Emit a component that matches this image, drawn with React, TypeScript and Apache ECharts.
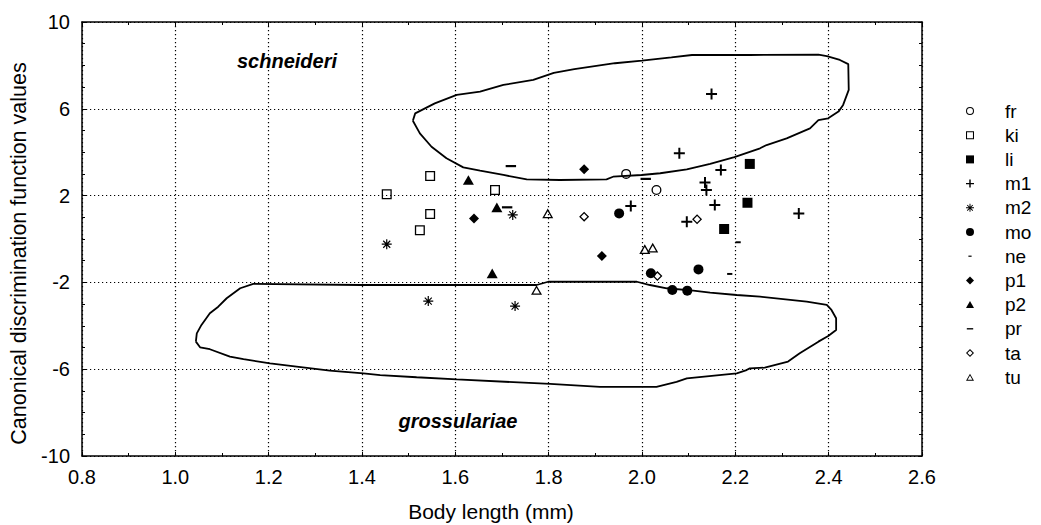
import React, { useEffect, useRef } from 'react';
import * as echarts from 'echarts';

// ---------- data ----------
const xTickMin = 0.8;
const xTickMax = 2.6;
const xTickStep = 0.2;
const yTickValues = [-10, -6, -2, 2, 6, 10];

const seriesNames = ['fr', 'ki', 'li', 'm1', 'm2', 'mo', 'ne', 'p1', 'p2', 'pr', 'ta', 'tu'];

const fr = [[1.966, 3.0], [2.031, 2.26]];
const ki = [[1.453, 2.06], [1.546, 2.9], [1.546, 1.15], [1.524, 0.4], [1.685, 2.26]];
const li = [[2.231, 3.46], [2.226, 1.67], [2.176, 0.46]];
const m1 = [[2.149, 6.68], [2.08, 3.95], [2.169, 3.18], [2.135, 2.6], [2.138, 2.26], [2.156, 1.57], [1.976, 1.52], [2.096, 0.8], [2.336, 1.18]];
const m2 = [[1.453, -0.24], [1.723, 1.11], [1.542, -2.86], [1.728, -3.09]];
const mo = [[1.951, 1.18], [2.019, -1.58], [2.121, -1.4], [2.065, -2.35], [2.097, -2.38]];
const ne = [[2.206, -0.15], [2.188, -1.61]];
const p1 = [[1.876, 3.21], [1.64, 0.95], [1.914, -0.78]];
const p2 = [[1.628, 2.72], [1.689, 1.46], [1.679, -1.58]];
const pr = [[1.719, 3.36], [1.711, 1.46], [2.008, 2.77]];
const ta = [[1.876, 1.03], [2.118, 0.91], [2.033, -1.71]];
const tu = [[1.798, 1.18], [2.006, -0.47], [2.023, -0.4], [1.774, -2.35]];

const schneideriContour = [
  [1.509, 5.45], [1.514, 5.79], [1.556, 6.25], [1.603, 6.64], [1.653, 6.79], [1.703, 7.1],
  [1.767, 7.33], [1.811, 7.66], [1.855, 7.83], [1.942, 8.1], [2.0, 8.22], [2.063, 8.37],
  [2.107, 8.48], [2.231, 8.48], [2.378, 8.5], [2.396, 8.43], [2.424, 8.25], [2.442, 8.06],
  [2.443, 6.87], [2.435, 6.41], [2.431, 6.18], [2.421, 5.87], [2.399, 5.56], [2.378, 5.48],
  [2.36, 5.1], [2.31, 4.64], [2.267, 4.33], [2.253, 4.18], [2.198, 3.77], [2.146, 3.46],
  [2.096, 3.21], [2.039, 3.03], [1.999, 2.95], [1.938, 2.87], [1.924, 2.75], [1.824, 2.72],
  [1.753, 2.75], [1.703, 2.95], [1.653, 3.15], [1.617, 3.3], [1.581, 3.72], [1.549, 4.25],
  [1.524, 4.87], [1.509, 5.45],
];

const grossulariaeContour = [
  [1.044, -4.73], [1.046, -4.35], [1.056, -3.96], [1.074, -3.42], [1.092, -3.12], [1.11, -2.73],
  [1.139, -2.27], [1.167, -2.07], [1.396, -2.12], [1.774, -2.12], [1.799, -1.97], [1.989, -1.97],
  [2.017, -2.12], [2.053, -2.27], [2.11, -2.38], [2.146, -2.47], [2.203, -2.58], [2.253, -2.66],
  [2.353, -2.89], [2.396, -3.04], [2.406, -3.27], [2.416, -3.65], [2.416, -4.19], [2.399, -4.47],
  [2.378, -4.73], [2.338, -5.27], [2.313, -5.65], [2.263, -5.93], [2.231, -5.96], [2.224, -6.04],
  [2.203, -6.19], [2.096, -6.42], [2.074, -6.58], [2.031, -6.81], [1.91, -6.81], [1.803, -6.68],
  [1.603, -6.47], [1.517, -6.37], [1.439, -6.27], [1.403, -6.19], [1.331, -6.07], [1.26, -5.88],
  [1.203, -5.73], [1.146, -5.54], [1.117, -5.42], [1.074, -5.08], [1.053, -4.99], [1.044, -4.73],
];

const seriesData: Record<string, number[][]> = { fr, ki, li, m1, m2, mo, ne, p1, p2, pr, ta, tu };

// ---------- styles ----------
const FONT = '"Liberation Sans", Arial, Helvetica, sans-serif';
const BOX = 'M0,0M10,10';
const CIRCLE_OUT = 'M10,5A5,5,0,1,1,0,5A5,5,0,1,1,10,5Z';
const CIRCLE_IN = 'M8.7,5A3.7,3.7,0,1,0,1.3,5A3.7,3.7,0,1,0,8.7,5Z';

const symbols: Record<string, { path: string; size: number }> = {
  fr: { path: CIRCLE_OUT + CIRCLE_IN, size: 10 },
  ki: { path: 'M0,0H10V10H0ZM1.3,1.3V8.7H8.7V1.3Z', size: 10 },
  li: { path: 'M0,0H10V10H0Z', size: 10 },
  m1: { path: 'M4.1,0H5.9V4.1H10V5.9H5.9V10H4.1V5.9H0V4.1H4.1Z', size: 11 },
  m2: {
    path:
      'M4.4,0H5.6V10H4.4ZM0,4.4H10V5.6H0ZM1.92,1.08L8.92,8.08L8.08,8.92L1.08,1.92ZM8.92,1.92L1.92,8.92L1.08,8.08L8.08,1.08Z',
    size: 10,
  },
  mo: { path: CIRCLE_OUT, size: 10 },
  ne: { path: BOX + 'M3,4.25H7V5.75H3Z', size: 13 },
  p1: { path: 'M5,0L10,5L5,10L0,5Z', size: 10 },
  p2: { path: BOX + 'M5,0.6L10,9.4H0Z', size: 11 },
  pr: { path: BOX + 'M1,4.15H9V5.85H1Z', size: 13 },
  ta: { path: 'M5,0L10,5L5,10L0,5ZM5,1.8L1.8,5L5,8.2L8.2,5Z', size: 10 },
  tu: { path: BOX + 'M5,0.6L10,9.4H0ZM5,3.0L2.0,8.2H8.0Z', size: 11 },
};

export default function App() {
  const ref = useRef<HTMLDivElement>(null);

  useEffect(() => {
    if (!ref.current) return;
    const chart = echarts.init(ref.current, null, { renderer: 'svg' });

    const black = '#000';
    const dotted = { color: black, width: 1.2, type: [1.2, 2.8] as number[] };

    const contourSeries = [schneideriContour, grossulariaeContour].map((d, i) => ({
      type: 'line',
      name: i === 0 ? 'schneideri contour' : 'grossulariae contour',
      data: d,
      showSymbol: false,
      symbol: 'none',
      smooth: false,
      silent: true,
      lineStyle: { color: black, width: 1.8 },
      z: 1,
    }));

    const scatterSeries = seriesNames.map((n) => ({
      type: 'scatter',
      name: n,
      data: seriesData[n],
      symbol: 'path://' + symbols[n].path,
      symbolSize: symbols[n].size,
      symbolKeepAspect: true,
      itemStyle: { color: black, opacity: 1, borderWidth: 0 },
      silent: true,
      z: 3,
    }));

    const option: any = {
      animation: false,
      backgroundColor: '#fff',
      textStyle: { fontFamily: FONT },
      grid: {
        left: 82,
        top: 22,
        width: 840,
        height: 434,
        containLabel: false,
        outerBoundsMode: 'none',
      },
      xAxis: [
        {
          type: 'value',
          position: 'bottom',
          min: xTickMin,
          max: xTickMax,
          interval: xTickStep,
          axisLine: { show: true, onZero: false, lineStyle: { color: black, width: 1.5 } },
          axisTick: { show: true, inside: true, length: 4, lineStyle: { color: black } },
          minorTick: { show: true, splitNumber: 2, length: 3, lineStyle: { color: black } },
          axisLabel: {
            formatter: (v: number) => v.toFixed(1),
            fontSize: 20,
            margin: 11,
            color: black,
            fontFamily: FONT,
          },
          splitLine: { show: true, lineStyle: dotted },
          name: 'Body length (mm)',
          nameLocation: 'middle',
          nameGap: 45,
          nameTextStyle: { fontSize: 21, color: black, fontFamily: FONT, padding: [0, 22, 0, 0] },
        },
        {
          type: 'value',
          position: 'top',
          min: xTickMin,
          max: xTickMax,
          interval: xTickStep,
          axisLine: { show: true, onZero: false, lineStyle: { color: black, width: 1.5 } },
          axisTick: { show: true, inside: true, length: 4, lineStyle: { color: black } },
          minorTick: { show: true, splitNumber: 2, length: 3, lineStyle: { color: black } },
          axisLabel: { show: false },
          splitLine: { show: false },
        },
      ],
      yAxis: [
        {
          type: 'value',
          position: 'left',
          min: -10,
          max: 10,
          axisLine: { show: true, onZero: false, lineStyle: { color: black, width: 1.5 } },
          axisTick: { show: true, inside: true, length: 4, customValues: yTickValues, lineStyle: { color: black } },
          axisLabel: {
            customValues: yTickValues,
            fontSize: 20,
            margin: 12,
            color: black,
            fontFamily: FONT,
          },
          splitLine: { show: true, lineStyle: dotted },
          name: 'Canonical discrimination function values',
          nameLocation: 'middle',
          nameGap: 37,
          nameTextStyle: { fontSize: 21.5, color: black, fontFamily: FONT, padding: [0, 29, 0, 0] },
        },
        {
          type: 'value',
          position: 'left',
          min: -10,
          max: 10,
          interval: 1,
          axisLine: { show: false, onZero: false },
          axisTick: { show: true, inside: true, length: 3, lineStyle: { color: black } },
          axisLabel: { show: false },
          splitLine: { show: false },
        },
        {
          type: 'value',
          position: 'right',
          min: -10,
          max: 10,
          interval: 1,
          axisLine: { show: true, onZero: false, lineStyle: { color: black, width: 1.5 } },
          axisTick: { show: true, inside: true, length: 3, lineStyle: { color: black } },
          axisLabel: { show: false },
          splitLine: { show: false },
        },
      ],
      legend: {
        orient: 'vertical',
        left: 966,
        top: 99,
        padding: 0,
        itemWidth: 8,
        itemHeight: 8,
        itemGap: 0.2,
        selectedMode: false,
        data: seriesNames,
        itemStyle: { borderWidth: 0 },
        textStyle: {
          fontSize: 19,
          fontFamily: FONT,
          color: black,
          lineHeight: 24,
          padding: [0, 0, 0, 26],
        },
      },
      graphic: [
        {
          type: 'text',
          x: 287,
          y: 61,
          silent: true,
          style: {
            text: 'schneideri',
            fontSize: 20,
            fontWeight: 'bold',
            fontStyle: 'italic',
            fontFamily: FONT,
            fill: black,
            align: 'center',
            verticalAlign: 'middle',
          },
        },
        {
          type: 'text',
          x: 458,
          y: 421,
          silent: true,
          style: {
            text: 'grossulariae',
            fontSize: 20,
            fontWeight: 'bold',
            fontStyle: 'italic',
            fontFamily: FONT,
            fill: black,
            align: 'center',
            verticalAlign: 'middle',
          },
        },
      ],
      series: [...contourSeries, ...scatterSeries],
    };

    chart.setOption(option);
    return () => chart.dispose();
  }, []);

  return (
    <div
      ref={ref}
      style={{ position: 'fixed', left: 0, top: 0, width: 1041, height: 525, background: '#fff' }}
    />
  );
}
